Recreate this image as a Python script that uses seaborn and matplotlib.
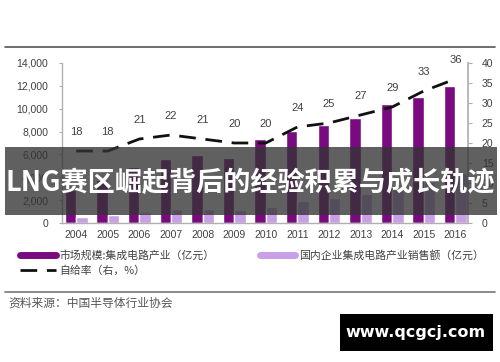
import matplotlib
matplotlib.use("Agg")
import matplotlib.pyplot as plt
import seaborn as sns
import pandas as pd
import numpy as np
from matplotlib.lines import Line2D
from matplotlib.patches import Rectangle

years = ["2004", "2005", "2006", "2007", "2008", "2009", "2010",
         "2011", "2012", "2013", "2014", "2015", "2016"]
market = [2908, 3800, 4863, 5624, 5974, 5676, 7350, 8066, 8558, 9166, 10393, 11024, 11986]
domestic = [545, 702, 1006, 1251, 1246, 1109, 1440, 1933, 2158, 2508, 3015, 3610, 4336]
rate = [18, 18, 21, 22, 21, 20, 20, 24, 25, 27, 29, 33, 36]
series_names = ["市场规模:集成电路产业（亿元）", "国内企业集成电路产业销售额（亿元）"]
rate_name = "自给率（右，%）"
left_ticks = [0, 2000, 4000, 6000, 8000, 10000, 12000, 14000]
right_ticks = [0, 5, 10, 15, 20, 25, 30, 35, 40]
title = "LNG赛区崛起背后的经验积累与成长轨迹"
source = "资料来源：中国半导体行业协会"
watermark = "www.qcgcj.com"

dark = "#7a0a80"
light = "#c9a0e8"
axcol = "#b0b0b0"
txtcol = "#404040"

sns.set_theme(style="white")
plt.rcParams['font.family'] = ['Liberation Sans', 'Noto Sans CJK SC', 'DejaVu Sans']

df = pd.DataFrame({
    "year": years * 2,
    "value": market + domestic,
    "series": [series_names[0]] * len(years) + [series_names[1]] * len(years),
})

fig = plt.figure(figsize=(5.0, 3.62), dpi=100)
ax = fig.add_axes([62 / 500, 1 - 223 / 362, (468 - 62) / 500, (223 - 63) / 362])
sns.barplot(data=df, x="year", y="value", hue="series", palette=[dark, light],
            width=0.72, ax=ax, legend=False, saturation=1)
ax.set_xlim(-0.45, 12.4)
ax.set_ylim(0, 14000)
ax.set_yticks(left_ticks)
ax.set_yticklabels([f"{t:,}" for t in left_ticks])
ax.set_xlabel("")
ax.set_ylabel("")
for s in ["top", "right"]:
    ax.spines[s].set_visible(False)
for s in ["left", "bottom"]:
    ax.spines[s].set_color(axcol)
    ax.spines[s].set_linewidth(1.0)
ax.tick_params(axis="both", labelsize=7.5, labelcolor=txtcol, colors=axcol,
               length=2, width=0.8)
ax.tick_params(axis="x", length=0, pad=5)
ax.tick_params(axis="y", pad=8)
for lab in ax.get_xticklabels() + ax.get_yticklabels():
    lab.set_color(txtcol)

ax2 = ax.twinx()
xs = np.arange(len(years))
sns.lineplot(x=xs, y=rate, ax=ax2, color="#111111", linewidth=2.0)
ax2.lines[0].set_dashes([6, 3.5])
ax2.set_ylim(0, 40)
ax2.set_yticks(right_ticks)
ax2.set_xlim(-0.45, 12.4)
for s in ["top", "left", "bottom"]:
    ax2.spines[s].set_visible(False)
ax2.spines["right"].set_color(axcol)
ax2.tick_params(axis="y", labelsize=7.5, labelcolor=txtcol, colors=axcol,
                length=3, width=0.8, pad=7)
for lab in ax2.get_yticklabels():
    lab.set_color(txtcol)
for x, r in zip(xs, rate):
    ax2.annotate(str(r), (x, r), xytext=(0, 10), textcoords="offset points",
                 ha="center", va="bottom", fontsize=8, color=txtcol)

# Legend (column-major order: dark, rate | light)
h_dark = Line2D([0], [0], color=dark, lw=5)
h_light = Line2D([0], [0], color=light, lw=5)
h_rate = Line2D([0], [0], color="#111111", lw=2, dashes=[6, 3.5])
leg = fig.legend([h_dark, h_rate, h_light], [series_names[0], rate_name, series_names[1]],
                 loc="upper left", bbox_to_anchor=(20 / 500, 1 - 250 / 362),
                 ncol=2, frameon=False, handlelength=3.3,
                 handletextpad=0.3, columnspacing=4.2, labelspacing=0.45,
                 borderpad=0, borderaxespad=0,
                 prop={"family": ["Noto Sans CJK SC", "DejaVu Sans"], "size": 7.8})
for t in leg.get_texts():
    t.set_color(txtcol)

# Top and bottom rules
fig.add_artist(Line2D([5 / 500, 495 / 500], [1 - 47 / 362] * 2, color="#555555", lw=1.2))
fig.add_artist(Line2D([5 / 500, 495 / 500], [1 - 292 / 362] * 2, color="#777777", lw=1.2))
fig.text(8 / 500, 1 - 303 / 362, source, fontsize=8.5, color="#555555",
         family=["Noto Sans CJK SC", "DejaVu Sans"], va="center", ha="left")

# Banner overlay
fig.add_artist(Rectangle((5 / 500, 1 - 215 / 362), 492 / 500, 68 / 362,
                         transform=fig.transFigure, facecolor="#333333",
                         alpha=0.78, edgecolor="none", zorder=10))
fig.text(250 / 500, 1 - 183 / 362, title, fontsize=19.5, color="white",
         fontweight="bold", family=["Noto Sans CJK SC", "DejaVu Sans"],
         ha="center", va="center", zorder=11)

# Watermark box
fig.add_artist(Rectangle((340 / 500, 1 - 351 / 362), 153 / 500, 37 / 362,
                         transform=fig.transFigure, facecolor="black",
                         edgecolor="none", zorder=10))
fig.text(416 / 500, 1 - 332 / 362, watermark, fontsize=11.5, color="white",
         fontweight="bold", family=["DejaVu Sans"], ha="center", va="center",
         zorder=11)

fig.savefig("out.png", dpi=100)
